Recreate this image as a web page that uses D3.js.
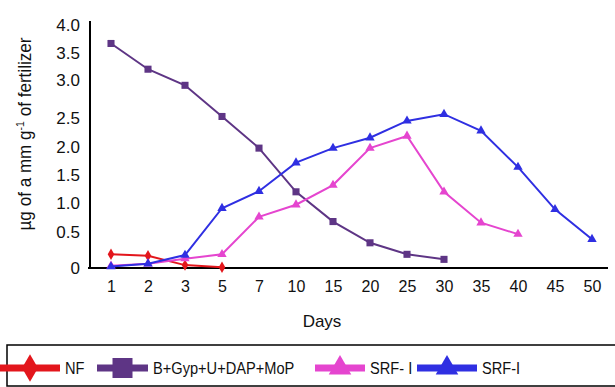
<!DOCTYPE html>
<html>
<head>
<meta charset="utf-8">
<script src="https://cdn.jsdelivr.net/npm/d3@7"></script>
<style>
  body { margin: 0; background: #fff; }
  svg { display: block; }
  text { font-family: "Liberation Sans", Arial, sans-serif; fill: #111; }
</style>
</head>
<body>
<script>
// categories on the x axis (days, drawn as evenly spaced points)
var days = ["1", "2", "3", "5", "7", "10", "15", "20", "25", "30", "35", "40", "45", "50"];
// y tick values
var yTicks = [0, 0.5, 1, 1.5, 2, 2.5, 3, 3.5, 4];
// series values
var nf = [0.19, 0.17, 0.04, 0.01];
var bGyp = [3.67, 3.2, 2.93, 2.52, 1.98, 1.2, 0.68, 0.35, 0.19, 0.12];
var srf1 = [0.03, 0.06, 0.13, 0.19, 0.76, 0.97, 1.32, 1.98, 2.19, 1.2, 0.66, 0.47];
var srf2 = [0.02, 0.06, 0.18, 0.91, 1.21, 1.72, 1.98, 2.16, 2.45, 2.55, 2.28, 1.64, 0.89, 0.40];
var seriesNames = ["NF", "B+Gyp+U+DAP+MoP", "SRF- I", "SRF-I"];

var width = 615, height = 387;

var series = [
  { name: seriesNames[0], values: nf,   color: "#e3161c", shape: "diamond" },
  { name: seriesNames[1], values: bGyp, color: "#5e3585", shape: "square" },
  { name: seriesNames[2], values: srf1, color: "#e545cf", shape: "triangle" },
  { name: seriesNames[3], values: srf2, color: "#2f2fe2", shape: "triangle" }
];

var svg = d3.select("body").append("svg")
            .attr("width", width)
            .attr("height", height);

// x: point scale over the day labels
var x = d3.scalePoint()
          .domain(days)
          .range([111, 592]);

// y: the printed tick labels are not evenly spaced, so map each one to its own spot
var y = d3.scaleLinear()
          .domain(yTicks)
          .range([268, 232, 203, 175, 147, 118, 80, 53, 25]);

function symbolFor(shape, size) {
  var type = shape == "square" ? d3.symbolSquare
           : shape == "triangle" ? d3.symbolTriangle
           : d3.symbolDiamond;
  return d3.symbol().type(type).size(size)();
}

// axes
var xAxis = svg.append("g")
               .attr("transform", "translate(0,268)")
               .call(d3.axisBottom(x).tickSize(0).tickPadding(13));
xAxis.select(".domain").remove();
xAxis.selectAll("text").attr("font-size", 16);

var yAxis = svg.append("g")
               .attr("transform", "translate(80,0)")
               .call(d3.axisLeft(y).tickValues(yTicks).tickSize(0).tickPadding(0)
                       .tickFormat(function(d) { return d == 0 ? "0" : d3.format(".1f")(d); }));
yAxis.select(".domain").remove();
yAxis.selectAll("text").attr("font-size", 17);

// axis lines
svg.append("line")
   .attr("x1", 90).attr("x2", 90)
   .attr("y1", 21).attr("y2", 269)
   .attr("stroke", "#000").attr("stroke-width", 2);
svg.append("line")
   .attr("x1", 88).attr("x2", 608)
   .attr("y1", 268).attr("y2", 268)
   .attr("stroke", "#000").attr("stroke-width", 2);

// axis titles
svg.append("text")
   .attr("x", 322).attr("y", 327)
   .attr("text-anchor", "middle")
   .attr("font-size", 17)
   .text("Days");

var yTitle = svg.append("text")
   .attr("transform", "translate(31,134) rotate(-90) scale(0.95,1)")
   .attr("text-anchor", "middle")
   .attr("font-size", 18);
yTitle.append("tspan").text("\u00b5g of a mm g");
yTitle.append("tspan").attr("font-size", 11).attr("dy", -7).text("-1");
yTitle.append("tspan").attr("dy", 7).text(" of fertilizer");

// lines + markers
var line = d3.line()
             .x(function(d, i) { return x(days[i]); })
             .y(function(d) { return y(d); });

series.forEach(function(s) {
  svg.append("path")
     .datum(s.values)
     .attr("fill", "none")
     .attr("stroke", s.color)
     .attr("stroke-width", 2)
     .attr("d", line);

  svg.selectAll(null)
     .data(s.values)
     .enter().append("path")
     .attr("transform", function(d, i) { return "translate(" + x(days[i]) + "," + y(d) + ")"; })
     .attr("d", symbolFor(s.shape, s.shape == "square" ? 50 : 38))
     .attr("fill", s.color);
});

// legend
svg.append("rect")
   .attr("x", 7).attr("y", 345)
   .attr("width", 640).attr("height", 41)
   .attr("fill", "none")
   .attr("stroke", "#000")
   .attr("stroke-width", 1.5);

var legendX = [0, 97, 315, 417];
var legendLen = [60, 51, 50, 60];

var legend = svg.selectAll("g.legend")
                .data(series)
                .enter().append("g")
                .attr("class", "legend")
                .attr("transform", function(d, i) { return "translate(" + legendX[i] + ",368)"; });

legend.append("line")
      .attr("x1", 0)
      .attr("x2", function(d, i) { return legendLen[i]; })
      .attr("stroke", function(d) { return d.color; })
      .attr("stroke-width", 7);

legend.append("path")
      .attr("transform", function(d, i) { return "translate(" + (legendLen[i] / 2) + ",0)"; })
      .attr("d", function(d) { return symbolFor(d.shape, d.shape == "square" ? 400 : 220); })
      .attr("fill", function(d) { return d.color; });

// narrow the legend labels to the condensed face of the original
legend.append("text")
      .attr("transform", function(d, i) { return "translate(" + (legendLen[i] + 5) + ",0) scale(0.86,1)"; })
      .attr("dy", "0.36em")
      .attr("font-size", 17)
      .text(function(d) { return d.name; });
</script>
</body>
</html>
